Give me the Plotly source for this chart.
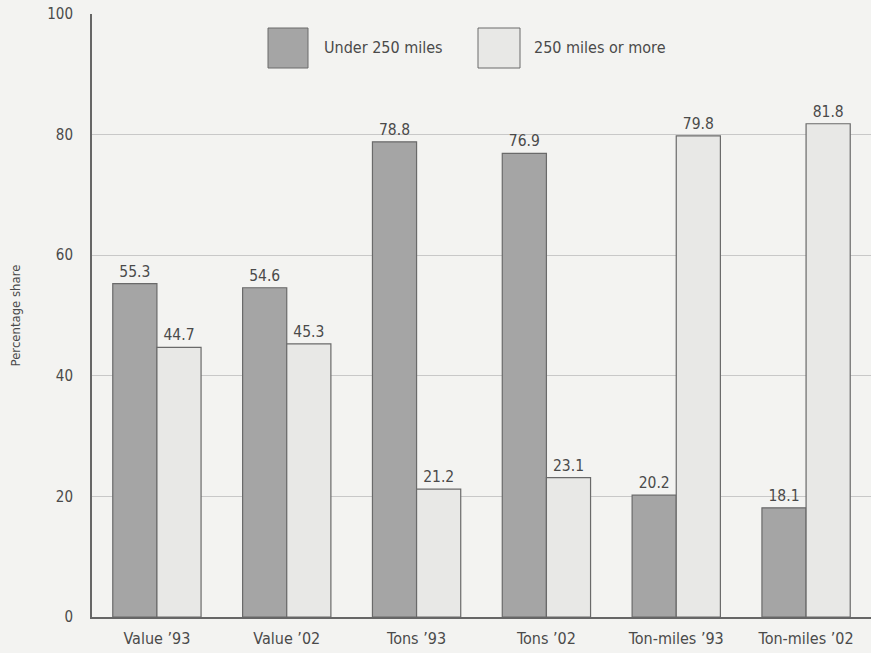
import plotly.graph_objects as go

categories = ["Value \u201993", "Value \u201902", "Tons \u201993", "Tons \u201902", "Ton-miles \u201993", "Ton-miles \u201902"]
under_250 = [55.3, 54.6, 78.8, 76.9, 20.2, 18.1]
over_250 = [44.7, 45.3, 21.2, 23.1, 79.8, 81.8]
series_names = ["Under 250 miles", "250 miles or more"]
y_ticks = [0, 20, 40, 60, 80, 100]

FONT = "DejaVu Sans Condensed, Liberation Sans Narrow, sans-serif"
TXT = "#4a4a4a"
DARK = "#a5a5a5"
LIGHT = "#e8e8e6"
EDGE = "#6a6a6a"

fig = go.Figure()
fig.add_trace(go.Bar(
    x=categories, y=under_250, name=series_names[0],
    marker=dict(color=DARK, line=dict(color=EDGE, width=1.2)),
    text=[f"{v:.1f}" for v in under_250], textposition="outside",
    textfont=dict(family=FONT, size=15.5, color=TXT), cliponaxis=False,
))
fig.add_trace(go.Bar(
    x=categories, y=over_250, name=series_names[1],
    marker=dict(color=LIGHT, line=dict(color=EDGE, width=1.2)),
    text=[f"{v:.1f}" for v in over_250], textposition="outside",
    textfont=dict(family=FONT, size=15.5, color=TXT), cliponaxis=False,
))

# Legend drawn manually (large swatches)
pw = 871 - 92
def px(xpix):
    return (xpix - 92) / pw
ph = 617 - 14
def py(ypix):
    return (617 - ypix) / ph

shapes = [
    dict(type="rect", xref="paper", yref="paper", x0=px(268), x1=px(308), y0=py(68), y1=py(28),
         fillcolor=DARK, line=dict(color=EDGE, width=1)),
    dict(type="rect", xref="paper", yref="paper", x0=px(478), x1=px(520), y0=py(68), y1=py(28),
         fillcolor=LIGHT, line=dict(color=EDGE, width=1)),
]
annotations = [
    dict(xref="paper", yref="paper", x=px(322), y=py(48), xanchor="left", yanchor="middle",
         text=series_names[0], showarrow=False, font=dict(family=FONT, size=16, color=TXT)),
    dict(xref="paper", yref="paper", x=px(532), y=py(48), xanchor="left", yanchor="middle",
         text=series_names[1], showarrow=False, font=dict(family=FONT, size=16, color=TXT)),
]

fig.update_layout(
    width=871, height=653,
    margin=dict(l=92, r=0, t=14, b=36),
    paper_bgcolor="#f3f3f1", plot_bgcolor="#f3f3f1",
    barmode="group", bargap=0.32, bargroupgap=0,
    showlegend=False,
    font=dict(family=FONT, size=15, color=TXT),
    shapes=shapes, annotations=annotations,
    xaxis=dict(showgrid=False, showline=True, linecolor="#666", linewidth=2,
               ticks="", ticklabelstandoff=6, tickfont=dict(family=FONT, size=16, color=TXT)),
    yaxis=dict(range=[0, 100], tickvals=y_ticks, showgrid=True, gridcolor="#c8c8c8", gridwidth=1,
               showline=True, linecolor="#666", linewidth=2, zeroline=False, ticks="",
               ticklabelstandoff=14,
               tickfont=dict(family=FONT, size=15, color=TXT),
               title=dict(text="Percentage share", font=dict(family=FONT, size=13, color=TXT), standoff=24)),
)

fig.write_html("out.html")
